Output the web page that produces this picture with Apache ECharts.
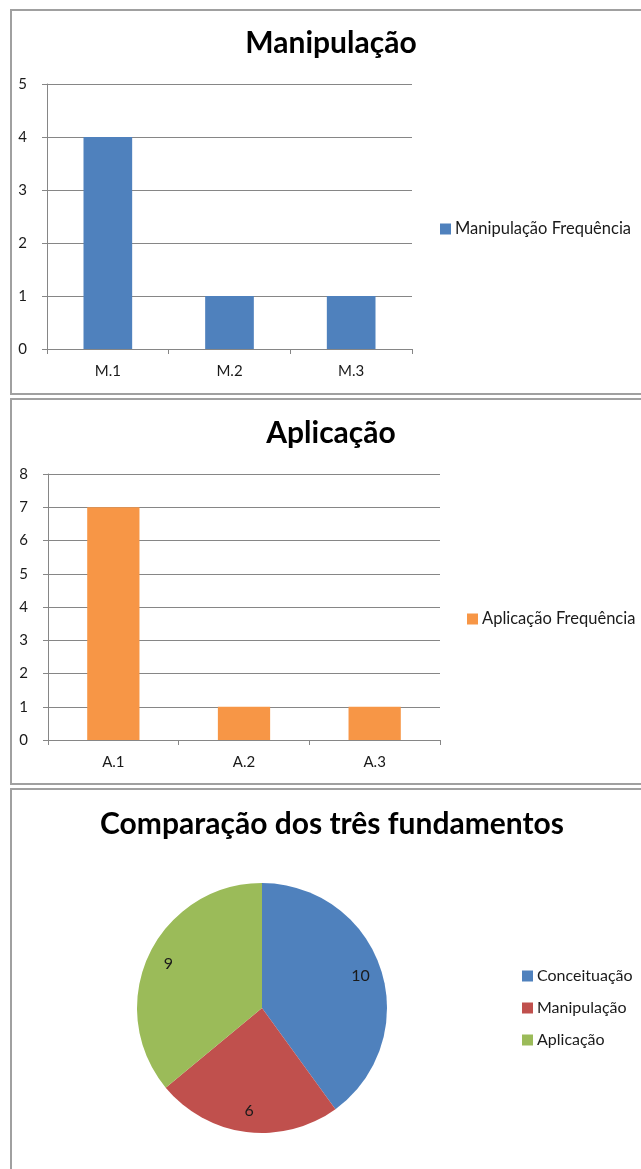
<!DOCTYPE html>
<html>
<head>
<meta charset="utf-8">
<script src="https://cdn.jsdelivr.net/npm/echarts@6/dist/echarts.min.js"></script>
<style>
    body { margin: 0; background: #fff; width: 641px; height: 1169px; overflow: hidden; position: relative; }
    .box { position: absolute; left: 10px; width: 660px; border: 2px solid #a0a0a0; box-sizing: border-box; }
    .chart { position: absolute; left: 0; width: 641px; }
</style>
</head>
<body>
<div class="box" style="top:9px;height:386px;"></div>
<div class="box" style="top:398px;height:387px;"></div>
<div class="box" style="top:788px;height:400px;"></div>
<div id="main-top" class="chart" style="top:0;height:396px;"></div>
<div id="main-middle" class="chart" style="top:396px;height:390px;"></div>
<div id="main-bottom" class="chart" style="top:786px;height:383px;"></div>
<script>
// dados
var manipCategorias = ['M.1', 'M.2', 'M.3'];
var manipValores = [4, 1, 1];
var aplicCategorias = ['A.1', 'A.2', 'A.3'];
var aplicValores = [7, 1, 1];
var fundNomes = ['Conceituação', 'Manipulação', 'Aplicação'];
var fundValores = [10, 6, 9];

var fonte = 'Lato, "Open Sans", sans-serif';
var cinza = '#868686';
var texto = '#1a1a1a';

function barOption(titulo, nomeSerie, categorias, valores, cor, max, grid, legendaX, legendaY, titleTop) {
    return {
        animation: false,
        textStyle: { fontFamily: fonte },
        title: {
            text: titulo,
            left: 331,
            top: titleTop,
            padding: 0,
            textAlign: 'center',
            textStyle: { fontSize: 30, fontWeight: 'bold', color: '#000', fontFamily: fonte }
        },
        legend: {
            data: [nomeSerie],
            left: legendaX,
            top: legendaY,
            padding: 0,
            itemWidth: 11,
            itemHeight: 11,
            itemGap: 4,
            icon: 'rect',
            textStyle: { fontSize: 16.5, lineHeight: 18, color: texto, padding: [0, 0, 0, -1] }
        },
        grid: grid,
        xAxis: {
            type: 'category',
            data: categorias,
            axisLine: { lineStyle: { color: cinza, width: 1 } },
            axisTick: { show: true, length: 5, lineStyle: { color: cinza } },
            axisLabel: { color: texto, fontSize: 15, margin: 15 }
        },
        yAxis: {
            type: 'value',
            min: 0,
            max: max,
            interval: 1,
            axisLine: { show: true, lineStyle: { color: cinza, width: 1 } },
            axisTick: { show: true, length: 5, lineStyle: { color: cinza } },
            axisLabel: { color: texto, fontSize: 15, margin: 20 },
            splitLine: { lineStyle: { color: cinza, width: 1 } }
        },
        series: [{
            name: nomeSerie,
            type: 'bar',
            data: valores,
            barWidth: '40%',
            itemStyle: { color: cor }
        }]
    };
}

// Manipulação
var chartTop = echarts.init(document.getElementById('main-top'));
chartTop.setOption(barOption('Manipulação', 'Manipulação Frequência', manipCategorias, manipValores,
    '#4f81bd', 5, { left: 47, top: 84, width: 365, height: 265 }, 440, 220, 28));

// Aplicação
var chartMiddle = echarts.init(document.getElementById('main-middle'));
chartMiddle.setOption(barOption('Aplicação', 'Aplicação Frequência', aplicCategorias, aplicValores,
    '#f79646', 8, { left: 48, top: 78, width: 392, height: 266 }, 467, 214, 22));

// Comparação
var cx = 262, cy = 222;
var chartBottom = echarts.init(document.getElementById('main-bottom'));
chartBottom.setOption({
    animation: false,
    textStyle: { fontFamily: fonte },
    title: {
        text: 'Comparação dos três fundamentos',
        left: 332,
        top: 23,
        padding: 0,
        textAlign: 'center',
        textStyle: { fontSize: 30, fontWeight: 'bold', color: '#000', fontFamily: fonte }
    },
    legend: {
        orient: 'vertical',
        left: 522,
        top: 181,
        padding: 0,
        itemWidth: 11,
        itemHeight: 11,
        itemGap: 14,
        icon: 'rect',
        data: fundNomes,
        textStyle: { fontSize: 16, lineHeight: 18, color: texto, padding: [0, 0, 0, -1] }
    },
    series: [{
        name: 'Fundamentos',
        type: 'pie',
        center: [cx, cy],
        radius: 125,
        startAngle: 90,
        clockwise: true,
        data: fundNomes.map(function (n, i) { return { name: n, value: fundValores[i] }; }),
        color: ['#4f81bd', '#c0504d', '#9bbb59'],
        label: {
            show: true,
            position: 'inside',
            formatter: '{c}',
            color: texto,
            fontSize: 16
        },
        labelLayout: function (p) {
            var lx = p.labelRect.x + p.labelRect.width / 2;
            var ly = p.labelRect.y + p.labelRect.height / 2;
            return { dx: (lx - cx) * 0.58, dy: (ly - cy) * 0.58 };
        },
        itemStyle: { borderWidth: 0 }
    }]
});
</script>
</body>
</html>
